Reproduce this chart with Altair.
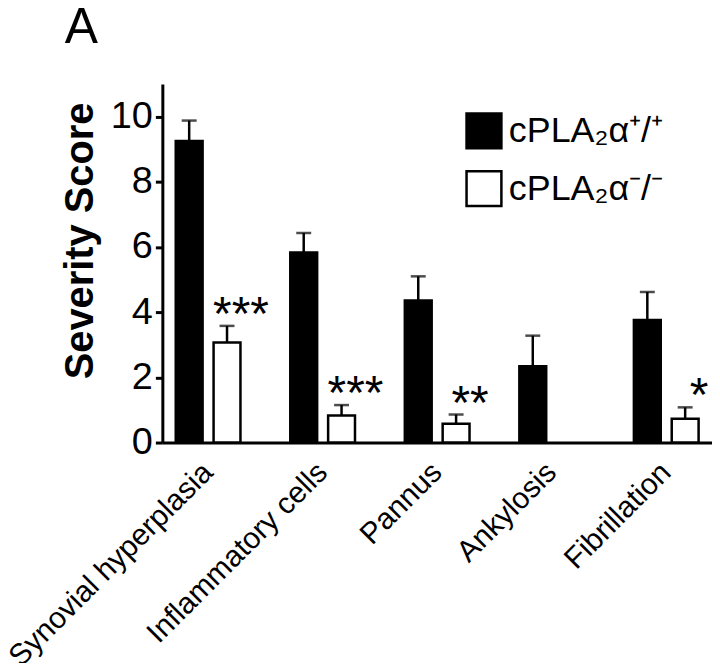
import altair as alt
import pandas as pd

categories = ["Synovial hyperplasia", "Inflammatory cells", "Pannus", "Ankylosis", "Fibrillation"]
groups = ["cPLA₂α⁺/⁺", "cPLA₂α⁻/⁻"]
wt_mean = [9.25, 5.83, 4.36, 2.34, 3.76]
wt_err = [0.63, 0.60, 0.74, 0.94, 0.86]
ko_mean = [3.07, 0.83, 0.58, 0.0, 0.73]
ko_err = [0.51, 0.32, 0.28, 0.0, 0.35]
ko_stars = ["***", "***", "**", "", "*"]
panel_label = ["A"]

rows = []
for i, c in enumerate(categories):
    rows.append({"cat": c, "grp": groups[0], "mean": wt_mean[i], "upper": wt_mean[i] + wt_err[i], "stars": ""})
    rows.append({"cat": c, "grp": groups[1], "mean": ko_mean[i], "upper": ko_mean[i] + ko_err[i], "stars": ko_stars[i]})
df = pd.DataFrame(rows)
df_nz = df[df["mean"] > 0]

FONT = "Liberation Sans"

x = alt.X("cat:N", sort=categories, title=None,
          scale=alt.Scale(paddingInner=0.435, paddingOuter=0.117),
          axis=alt.Axis(labelAngle=-45, labelAlign="right", labelBaseline="middle",
                        labelPadding=25, ticks=False, labelFontSize=30,
                        labelColor="black", labelFont=FONT, labelLimit=400))
xo = alt.XOffset("grp:N", sort=groups, scale=alt.Scale(paddingInner=0.29, paddingOuter=0))
y_scale = alt.Scale(domain=[0, 11], nice=False)

bars = alt.Chart(df_nz).mark_bar(stroke="black", strokeWidth=2.5).encode(
    x=x, xOffset=xo,
    y=alt.Y("mean:Q", scale=y_scale,
            axis=alt.Axis(values=[0, 2, 4, 6, 8, 10], title="Severity Score",
                          titleFontSize=40, titleFontWeight="bold", titleFont=FONT,
                          titleColor="black", titleX=-70, titleY=157, titleAngle=-90,
                          titleAlign="center", titleBaseline="alphabetic",
                          labelFontSize=38, labelFont=FONT, labelColor="black",
                          labelPadding=3, tickSize=7, tickWidth=3, tickColor="black",
                          grid=False)),
    fill=alt.Fill("grp:N", sort=groups,
                  scale=alt.Scale(domain=groups, range=["black", "white"]),
                  legend=alt.Legend(title=None, orient="none", legendX=304, legendY=28,
                                    symbolType="square", symbolSize=1225,
                                    symbolStrokeColor="black", symbolStrokeWidth=2.5,
                                    labelFontSize=36, labelFont=FONT, labelColor="black",
                                    labelOffset=6, rowPadding=12, symbolOpacity=1)),
)

err = alt.Chart(df_nz).mark_rule(color="black", strokeWidth=2.5).encode(
    x=x, xOffset=xo, y=alt.Y("mean:Q", scale=y_scale), y2="upper:Q")

caps = alt.Chart(df_nz).mark_tick(color="black", thickness=2.5, size=15, orient="horizontal").encode(
    x=x, xOffset=xo, y=alt.Y("upper:Q", scale=y_scale))

stars = alt.Chart(df_nz).mark_text(fontSize=48, font=FONT, baseline="alphabetic", dx=14, dy=4,
                                   color="black").encode(
    x=x, xOffset=xo, y=alt.Y("upper:Q", scale=y_scale), text="stars:N")

label_a = alt.Chart(pd.DataFrame({"t": panel_label})).mark_text(
    fontSize=50, font=FONT, align="left", baseline="alphabetic", color="black"
).encode(x=alt.value(-98), y=alt.value(-41), text="t:N")

chart = alt.layer(bars, err, caps, stars, label_a).properties(
    width=552, height=360,
    autosize=alt.AutoSizeParams(type="none"),
    padding={"left": 155, "top": 75, "right": 0, "bottom": 220},
).configure_view(stroke=None).configure_axis(
    domainColor="black", domainWidth=3
)

chart.save("out.html", embed_options={"renderer": "svg", "actions": False})
